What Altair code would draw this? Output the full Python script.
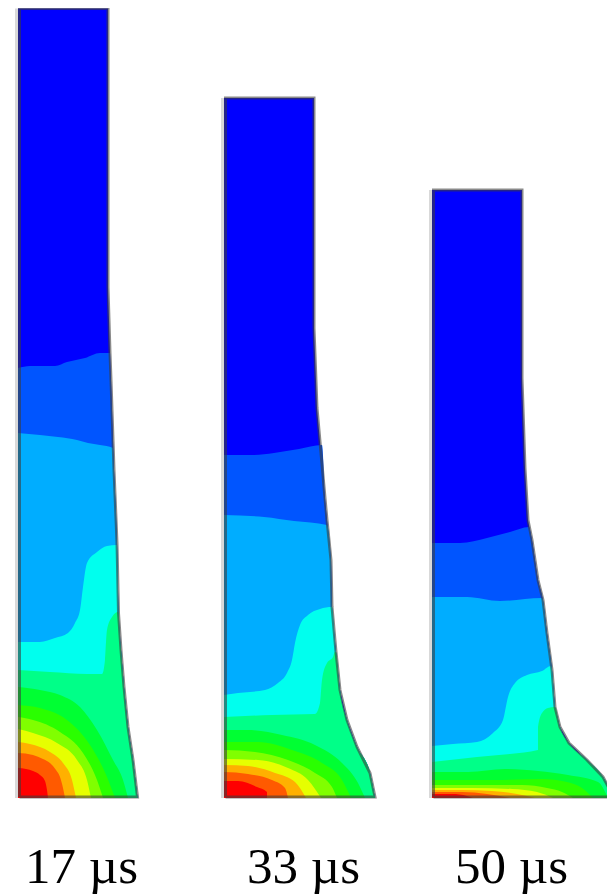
import altair as alt
import pandas as pd

PANEL_LABELS = ["17 µs", "33 µs", "50 µs"]
PANEL_OFFSET = [10, 216, 424]
LABEL_SHIFT = [7, 23, 23]
LEVEL_COLORS = ["#0000ff", "#0055ff", "#00adff", "#00ffee", "#00ff88", "#00ff33",
                "#2aff00", "#80ff00", "#e6ff00", "#ffb000", "#ff5a00", "#ff0000"]

outline_1 = [(0, 789.5), (90, 789.5), (90, 511), (92, 445), (93, 418), (96, 328), (99, 255), (100.5, 185),
             (103, 148), (106, 111), (110, 71), (115, 38), (119.5, 0)]
outline_2 = [(0, 700), (90, 700), (90, 470), (93, 390), (97, 345), (101, 300), (103, 278), (107, 238),
             (108, 191), (112, 146), (116, 108), (123, 78), (133, 51), (146, 25), (151, 0)]
outline_3 = [(0, 608), (90, 608), (90, 420), (93, 330), (96, 278), (100, 258), (106, 218), (111, 198),
             (115, 165), (120, 128), (123, 91), (128, 71), (137, 55), (155, 38), (171, 21), (182, 0)]

bands_1 = [
    [(0, 430), (12, 432), (37, 432), (49, 436), (67, 440), (82, 445), (92, 445)],
    [(0, 365), (22, 363), (40, 361), (59, 358), (70, 355), (82, 353), (95, 350)],
    [(0, 156), (22, 156), (37, 160), (50, 165), (57, 175), (62, 188), (65, 211), (69, 235), (79, 246), (89, 252), (99, 253)],
    [(0, 128), (32, 126), (69, 124), (84, 124), (87, 138), (89, 168), (94, 181), (100, 186)],
    [(0, 111), (22, 108), (42, 103), (62, 91), (79, 68), (95, 38), (105, 18), (110, 0)],
    [(0, 93), (22, 90), (49, 78), (72, 53), (89, 21), (97, 0)],
    [(0, 81), (15, 78), (42, 66), (65, 45), (79, 18), (85, 0)],
    [(0, 69), (15, 65), (39, 55), (59, 38), (69, 18), (73, 0)],
    [(0, 56), (12, 54), (32, 46), (45, 35), (54, 18), (58, 0)],
    [(0, 45), (15, 43), (25, 39), (32, 35), (38, 28), (42, 21), (45, 10), (47, 0)],
    [(0, 30), (8, 29), (15, 27), (22, 23), (27, 17), (29, 8), (30, 0)],
]
bands_2 = [
    [(0, 343), (30, 343), (50, 345), (75, 349), (98, 353)],
    [(0, 283), (40, 281), (70, 277), (103, 273)],
    [(0, 103), (14, 105), (41, 108), (54, 115), (63, 125), (68, 138), (71, 155), (76, 173), (84, 183), (96, 189), (108, 191)],
    [(0, 81), (48, 83), (91, 84), (96, 95), (98, 118), (103, 135), (109, 141), (111, 146)],
    [(0, 68), (23, 68), (58, 63), (91, 53), (118, 35), (134, 15), (141, 0)],
    [(0, 56), (34, 56), (68, 48), (98, 35), (118, 18), (127, 0)],
    [(0, 48), (31, 46), (64, 38), (91, 25), (108, 11), (113, 0)],
    [(0, 39), (34, 38), (64, 30), (84, 18), (97, 0)],
    [(0, 33), (24, 32), (51, 25), (71, 16), (82, 0)],
    [(0, 26), (24, 24), (48, 18), (61, 10), (64, 0)],
    [(0, 17), (14, 17), (33, 11), (43, 6), (43, 0)],
]
bands_3 = [
    [(0, 255), (28, 255), (55, 260), (78, 266), (97, 271)],
    [(0, 201), (35, 201), (68, 197), (110, 200)],
    [(0, 52), (21, 54), (45, 56), (61, 65), (71, 78), (76, 101), (83, 115), (95, 123), (110, 127), (119, 132)],
    [(0, 36), (45, 41), (78, 44), (106, 48), (106, 71), (110, 85), (116, 90), (123, 91)],
    [(0, 26), (36, 26), (73, 29), (106, 27), (136, 23), (166, 16), (176, 0)],
    [(0, 18), (60, 18), (110, 19), (135, 16), (150, 10), (161, 0)],
    [(0, 13), (40, 13), (90, 13), (115, 10), (130, 6), (141, 0)],
    [(0, 10), (40, 10), (80, 9), (105, 6), (121, 0)],
    [(0, 8), (30, 8), (60, 7), (85, 4), (103, 0)],
    [(0, 6), (30, 6), (55, 4), (78, 0)],
    [(0, 4), (20, 4), (35, 2), (41, 0)],
]
OUTLINES = [outline_1, outline_2, outline_3]
BANDS = [bands_1, bands_2, bands_3]

W, H = 599, 886
x_scale = alt.Scale(domain=[0, W], nice=False, zero=False)
y_scale = alt.Scale(domain=[790 - H, 790], nice=False, zero=False)
x_enc = alt.X("x:Q", axis=None, scale=x_scale)
y_enc = alt.Y("h:Q", axis=None, scale=y_scale)


def frame(points, offset):
    return pd.DataFrame([{"i": i, "x": offset + p[0], "h": p[1], "base": 0} for i, p in enumerate(points)])


layers = []
for outline, bands, offset in zip(OUTLINES, BANDS, PANEL_OFFSET):
    regions = [outline]
    for b in bands:
        if b[-1][1] > 0:
            regions.append(b + [p for p in outline if p[0] > b[-1][0]])
        else:
            regions.append(b)
    for n, (region, colour) in enumerate(zip(regions, LEVEL_COLORS)):
        layers.append(
            alt.Chart(frame(region, offset)).mark_area(
                fill=colour, line=False, interpolate="linear" if n == 0 else "monotone"
            ).encode(
                x=x_enc, y=y_enc, y2="base:Q",
            )
        )
    left = [(-1.5, 0), (-1.5, outline[0][1])]
    layers.append(
        alt.Chart(frame(left, offset)).mark_line(color="#d9d9d9", strokeWidth=3).encode(x=x_enc, y=y_enc, order="i:Q")
    )
    ring = [(1.5, 1)] + [(1.5, outline[0][1])] + outline[1:-1] + [(outline[-1][0], 1), (1.5, 1)]
    layers.append(
        alt.Chart(frame(ring, offset)).mark_line(color="#3c3c3c", strokeWidth=3, opacity=0.6).encode(
            x=x_enc, y=y_enc, order="i:Q"
        )
    )

labels = pd.DataFrame({
    "label": PANEL_LABELS,
    "x": [o + s for o, s in zip(PANEL_OFFSET, LABEL_SHIFT)],
    "h": [-85, -85, -85],
})
layers.append(
    alt.Chart(labels).mark_text(
        font="Liberation Serif", fontSize=51, align="left", baseline="alphabetic", color="black"
    ).encode(x=x_enc, y=y_enc, text="label:N")
)

chart = alt.layer(*layers).properties(
    width=W, height=H, padding=0, background="white",
    autosize=alt.AutoSizeParams(type="none"),
).configure_view(stroke=None)
chart.save("out.html", embed_options={"renderer": "svg", "actions": False})
